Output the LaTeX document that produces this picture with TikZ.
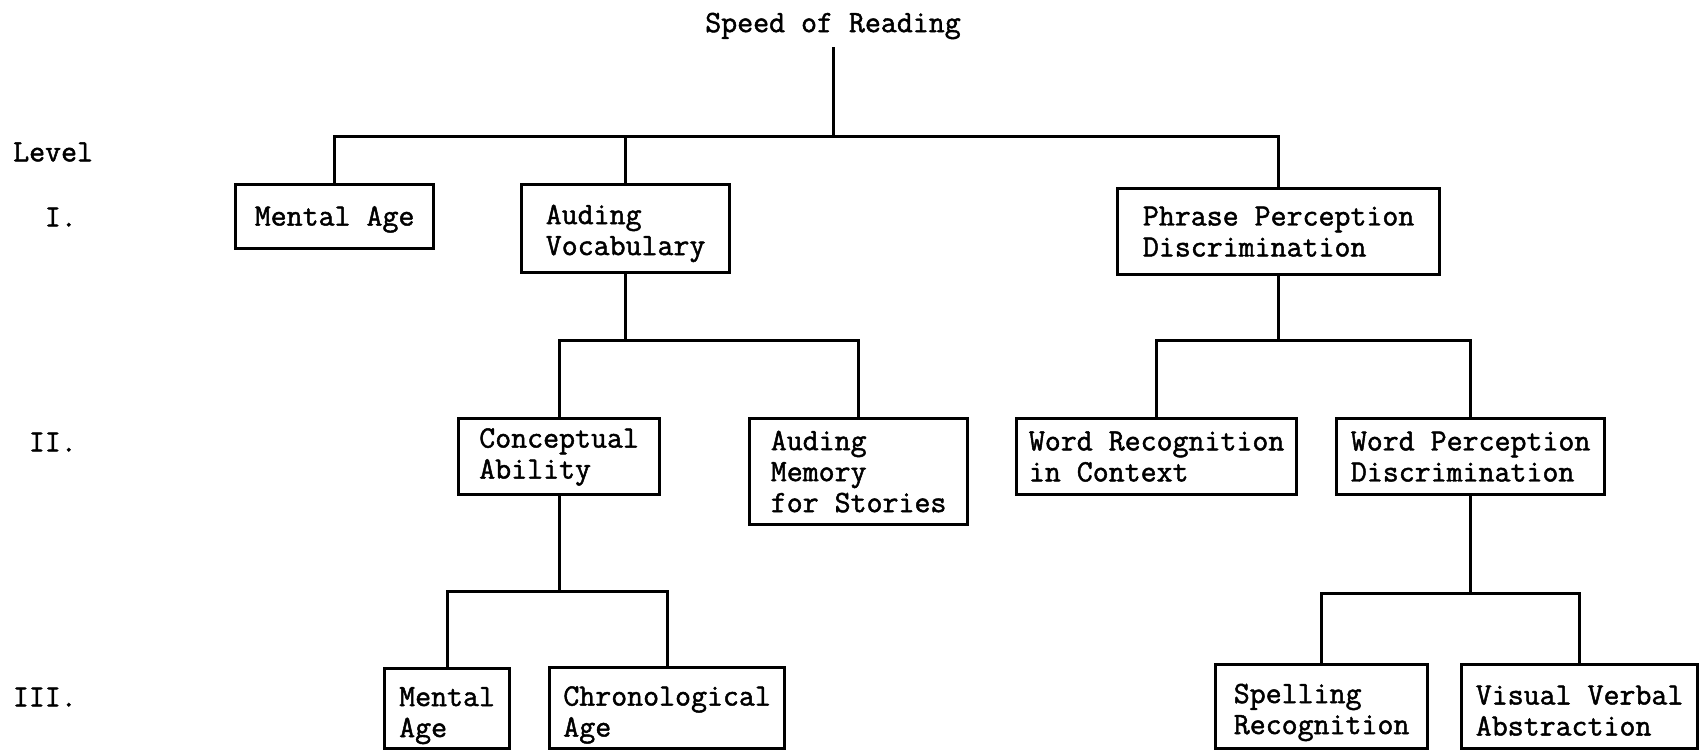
\documentclass[tikz,border=0pt]{standalone}
\usepackage{fontspec}
\newfontfamily\typeface{Latin Modern Mono}[FakeBold=1.5]
\newcommand{\typefont}{\typeface\fontsize{31}{31}\selectfont}

\begin{document}
\begin{tikzpicture}[
                x=1pt, y=-1pt,
                box/.style = {draw, line width=3.2pt, inner sep=0pt, anchor=north west,
                              align=left, font=\typefont},
                link/.style = {line width=3pt},
                % Stile per i livelli a sinistra
                level label/.style = {font=\typefont, inner sep=0pt}
                ]
                \useasboundingbox (0,0) rectangle (1705,750);

                % --- Radice ---
                \node[level label, inner ysep=8pt] (speed) at (833,26) {Speed of Reading};

                % --- Livello I ---
                \node[box, minimum width=198, minimum height=64, text height=25] (mental) at (234,183) {Mental Age};
                \node[box, minimum width=208, minimum height=88, text height=60] (auding) at (520,183) {Auding\\Vocabulary};
                \node[box, minimum width=322, minimum height=86]  (phrase) at (1116,187) {Phrase Perception\\Discrimination};

                % --- Livello II ---
                \node[box, minimum width=201, minimum height=76, text height=51] (concept) at (457,417) {Conceptual\\Ability};
                \node[box, minimum width=218, minimum height=106] (memory)   at (748,417)  {Auding\\Memory\\for Stories};
                \node[box, minimum width=280, minimum height=76]  (wordrec)  at (1015,417) {Word Recognition\\in Context};
                \node[box, minimum width=268, minimum height=76]  (wordperc) at (1335,417) {Word Perception\\Discrimination};

                % --- Livello III ---
                \node[box, minimum width=125, minimum height=80, text height=64] (mentalb)  at (383,667)  {Mental\\Age};
                \node[box, minimum width=235, minimum height=81, text height=64] (chrono)   at (548,666)  {Chronological\\Age};
                \node[box, minimum width=212, minimum height=84, text height=62] (spelling) at (1214,663) {Spelling\\Recognition};
                \node[box, minimum width=236, minimum height=84, text height=58] (visual)   at (1460,663) {Visual Verbal\\Abstraction};

                % --- Etichette dei livelli ---
                \node[level label, anchor=west] (level) at (13,152) {Level};
                \foreach \lab/\yy [count=\k] in {I./217, II./442, III./697}
                    \node[level label, anchor=east] (lv\k) at (77,\yy) {\lab};

                % --- Collegamenti ---
                \draw[link] (speed.south) -- ++(0,89) coordinate (j0);
                \draw[link] (mental.north) |- (j0) -| (phrase.north);
                \draw[link] (auding.north) -- (auding.north |- j0);

                \draw[link] (auding.south) -- ++(0,66) coordinate (j1);
                \draw[link] (concept.north) |- (j1) -| (memory.north);

                \draw[link] (phrase.south) -- ++(0,64) coordinate (j2);
                \draw[link] (wordrec.north) |- (j2) -| (wordperc.north);

                \draw[link] (concept.south) -- ++(0,95) coordinate (j3);
                \draw[link] (mentalb.north) |- (j3) -| (chrono.north);

                \draw[link] (wordperc.south) -- ++(0,97) coordinate (j4);
                \draw[link] (spelling.north) |- (j4) -| (visual.north);

            \end{tikzpicture}
\end{document}
